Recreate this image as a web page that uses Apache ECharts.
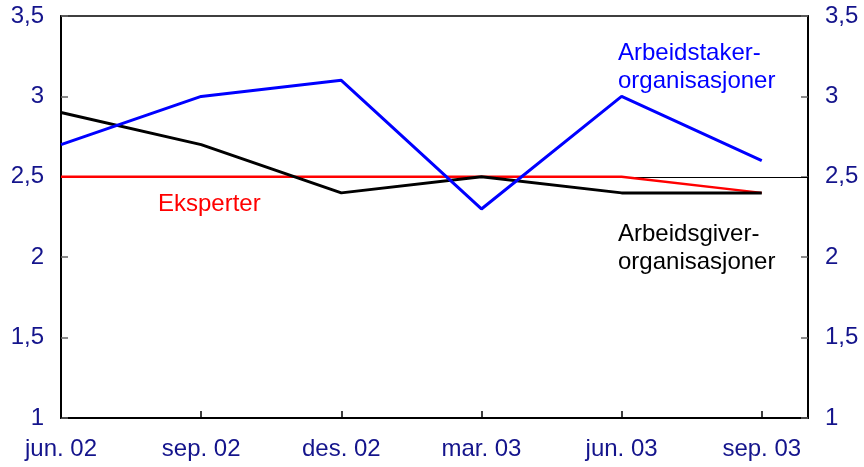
<!DOCTYPE html>
<html>
<head>
<meta charset="utf-8">
<script src="https://cdn.jsdelivr.net/npm/echarts@6/dist/echarts.min.js"></script>
<style>
  html, body { margin: 0; padding: 0; background: #fff; }
  #chart { width: 864px; height: 467px; }
</style>
</head>
<body>
<div id="chart"></div>
<script>
// Kvartaler
const categories = ['jun. 02', 'sep. 02', 'des. 02', 'mar. 03', 'jun. 03', 'sep. 03'];
// Forventet inflasjon
const arbeidstaker = [2.7, 3.0, 3.1, 2.3, 3.0, 2.6];
const arbeidsgiver = [2.9, 2.7, 2.4, 2.5, 2.4, 2.4];
const eksperter = [2.5, 2.5, 2.5, 2.5, 2.5, 2.4];
const yTicks = [1, 1.5, 2, 2.5, 3, 3.5];

const navy = '#14148c';
const font = '"Liberation Sans", Arial';
const fs = 24;

function toPoints(arr) {
  return arr.map((v, i) => [i, v]);
}

const chart = echarts.init(document.getElementById('chart'));

const yAxisBase = {
  type: 'value',
  min: yTicks[0],
  max: yTicks[yTicks.length - 1],
  interval: 0.5,
  splitLine: { show: false },
  axisLine: { show: true, lineStyle: { color: '#000', width: 2 } },
  axisTick: { show: true, inside: true, length: 7, lineStyle: { color: '#666', width: 1.5 } },
  axisLabel: {
    color: navy, fontFamily: font, fontSize: fs, margin: 17,
    formatter: v => String(v).replace('.', ',')
  }
};

const option = {
  animation: false,
  grid: { left: 61, right: 56, top: 16, bottom: 49, show: true, borderColor: '#000', borderWidth: 1.5 },
  xAxis: {
    type: 'value',
    min: 0,
    max: 5.33,
    interval: 1,
    splitLine: { show: false },
    axisLine: { show: true, lineStyle: { color: '#000', width: 2 } },
    axisTick: { show: true, inside: true, length: 7, lineStyle: { color: '#000', width: 1.5 } },
    axisLabel: {
      color: navy, fontFamily: font, fontSize: fs, margin: 19,
      showMaxLabel: false,
      formatter: v => categories[Math.round(v)] || ''
    }
  },
  yAxis: [
    Object.assign({}, yAxisBase, { position: 'left' }),
    Object.assign({}, yAxisBase, { position: 'right' })
  ],
  series: [
    {
      name: 'Eksperter',
      type: 'line',
      data: toPoints(eksperter),
      symbol: 'none',
      lineStyle: { color: '#ff0000', width: 2.5 },
      z: 3,
      markLine: {
        silent: true,
        symbol: 'none',
        label: { show: false },
        lineStyle: { color: '#000', width: 1, type: 'solid' },
        data: [{ yAxis: 2.5 }],
        z: 2
      }
    },
    {
      name: 'Arbeidsgiverorganisasjoner',
      type: 'line',
      data: toPoints(arbeidsgiver),
      symbol: 'none',
      lineStyle: { color: '#000', width: 3 },
      z: 4
    },
    {
      name: 'Arbeidstakerorganisasjoner',
      type: 'line',
      data: toPoints(arbeidstaker),
      symbol: 'none',
      lineStyle: { color: '#0000ff', width: 3 },
      z: 5
    }
  ],
  graphic: [
    { type: 'text', left: 618, top: 39, style: { text: 'Arbeidstaker-\norganisasjoner', fill: '#0000ff', font: fs + 'px "Liberation Sans", Arial', lineHeight: 28 } },
    { type: 'text', left: 158, top: 190, style: { text: 'Eksperter', fill: '#ff0000', font: fs + 'px "Liberation Sans", Arial', lineHeight: 28 } },
    { type: 'text', left: 618, top: 220, style: { text: 'Arbeidsgiver-\norganisasjoner', fill: '#000', font: fs + 'px "Liberation Sans", Arial', lineHeight: 28 } }
  ]
};

chart.setOption(option);
</script>
</body>
</html>
